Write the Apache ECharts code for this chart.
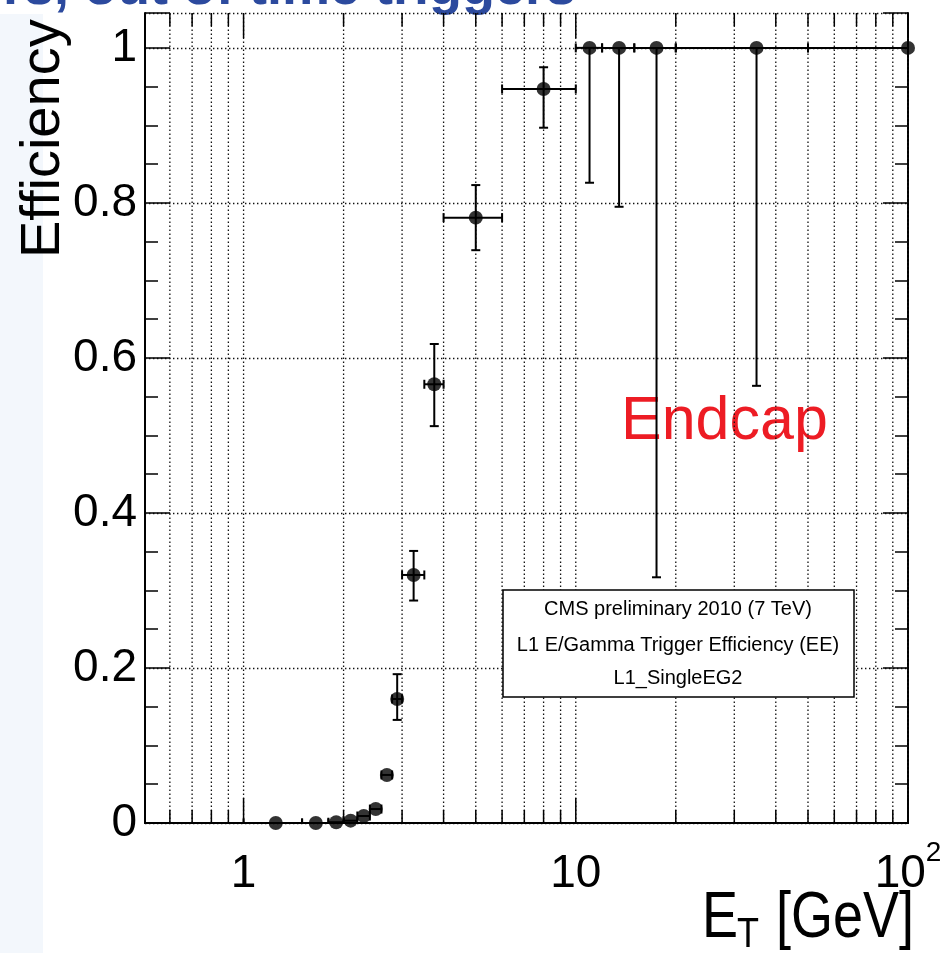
<!DOCTYPE html>
<html>
<head>
<meta charset="utf-8">
<script src="https://cdn.jsdelivr.net/npm/echarts@6/dist/echarts.min.js"></script>
<style>
html, body { margin: 0; padding: 0; background: #fff; }
#chart { width: 948px; height: 953px; }
</style>
</head>
<body>
<div id="chart"></div>
<script>
// L1 EG trigger efficiency, endcap. bin centres and edges in GeV
var etCenter = [1.25, 1.65, 1.9, 2.1, 2.3, 2.5, 2.7, 2.9, 3.25, 3.75, 5, 8, 11, 13.5, 17.5, 35, 100];
var etLow    = [1.0, 1.5, 1.8, 2.0, 2.2, 2.4, 2.6, 2.8, 3.0, 3.5, 4, 6, 10, 12, 15, 20, 50];
var etHigh   = [1.5, 1.8, 2.0, 2.2, 2.4, 2.6, 2.8, 3.0, 3.5, 4.0, 6, 10, 12, 15, 20, 50, 150];
var eff      = [0, 0, 0.001, 0.003, 0.009, 0.018, 0.062, 0.160, 0.320, 0.566, 0.781, 0.947, 1, 1, 1, 1, 1];
var effLow   = [0, 0, 0.001, 0.003, 0.009, 0.018, 0.062, 0.133, 0.287, 0.512, 0.739, 0.897, 0.826, 0.795, 0.317, 0.564, 1];
var effHigh  = [0, 0, 0.001, 0.003, 0.009, 0.018, 0.062, 0.192, 0.351, 0.618, 0.823, 0.975, 1, 1, 1, 1, 1];

var xTickVals = [1, 10, 100];
var xTickText = ['{b|1}', '{b|10}', '{b|10}{s|2}'];
var xMinorVals = [0.6, 0.7, 0.8, 0.9, 2, 3, 4, 5, 6, 7, 8, 9, 20, 30, 40, 50, 60, 70, 80, 90];
var yTickVals = [0, 0.2, 0.4, 0.6, 0.8, 1];
var yTickText = ['0', '0.2', '0.4', '0.6', '0.8', '1'];

var X_MIN = 0.505, X_MAX = 100, Y_MAX = 1.045;
var FONT = '"Liberation Sans", Arial, Helvetica, sans-serif';

(function () {
    var chart = echarts.init(document.getElementById('chart'));

    function xLabel(v) {
        for (var i = 0; i < xTickVals.length; i++) {
            if (Math.abs(v - xTickVals[i]) / xTickVals[i] < 1e-6) return xTickText[i];
        }
        return '';
    }
    function yLabel(v) {
        for (var i = 0; i < yTickVals.length; i++) {
            if (Math.abs(v - yTickVals[i]) < 1e-6) return yTickText[i];
        }
        return '';
    }

    // x grid lines + ticks (minor = 0, major = 1); log axis minor ticks done by hand
    var gridData = xMinorVals.map(function (v) { return [v, 0]; })
        .concat(xTickVals.map(function (v) { return [v, 1]; }));

    var errData = etCenter.map(function (x, i) {
        return [x, eff[i], etLow[i], etHigh[i], effLow[i], effHigh[i]];
    });
    var pts = etCenter.map(function (x, i) { return [x, eff[i]]; });

    function renderGrid(params, api) {
        var v = api.value(0), major = api.value(1);
        var bot = api.coord([v, 0]), top = api.coord([v, Y_MAX]);
        var len = major ? 25 : 13;
        var tk = { stroke: '#000', lineWidth: 1.5 };
        return {
            type: 'group',
            children: [
                { type: 'line', shape: { x1: bot[0], y1: bot[1], x2: top[0], y2: top[1] },
                  style: { stroke: '#111', lineWidth: 1.3, lineDash: [1.4, 2.6] } },
                { type: 'line', shape: { x1: bot[0], y1: bot[1], x2: bot[0], y2: bot[1] - len }, style: tk },
                { type: 'line', shape: { x1: top[0], y1: top[1], x2: top[0], y2: top[1] + len }, style: tk }
            ]
        };
    }

    function renderErr(params, api) {
        var c = api.coord([api.value(0), api.value(1)]);
        var xl = api.coord([api.value(2), api.value(1)]);
        var xh = api.coord([api.value(3), api.value(1)]);
        var yl = api.coord([api.value(0), api.value(4)]);
        var yh = api.coord([api.value(0), api.value(5)]);
        var st = { stroke: '#000', lineWidth: 2 };
        var cap = 4.5;
        var kids = [
            { type: 'line', shape: { x1: xl[0], y1: c[1], x2: xh[0], y2: c[1] }, style: st },
            { type: 'line', shape: { x1: xl[0], y1: c[1] - cap, x2: xl[0], y2: c[1] + cap }, style: st },
            { type: 'line', shape: { x1: xh[0], y1: c[1] - cap, x2: xh[0], y2: c[1] + cap }, style: st }
        ];
        if (yh[1] < c[1] - 1) {
            kids.push({ type: 'line', shape: { x1: c[0], y1: c[1], x2: c[0], y2: yh[1] }, style: st });
            kids.push({ type: 'line', shape: { x1: c[0] - cap, y1: yh[1], x2: c[0] + cap, y2: yh[1] }, style: st });
        }
        if (yl[1] > c[1] + 1) {
            kids.push({ type: 'line', shape: { x1: c[0], y1: c[1], x2: c[0], y2: yl[1] }, style: st });
            kids.push({ type: 'line', shape: { x1: c[0] - cap, y1: yl[1], x2: c[0] + cap, y2: yl[1] }, style: st });
        }
        return { type: 'group', children: kids };
    }

    var frameLine = { lineStyle: { color: '#000', width: 2 } };
    var tickMajor = { show: true, inside: true, length: 25, lineStyle: { color: '#000', width: 1.5 } };
    var tickMinor = { show: true, inside: true, length: 13, lineStyle: { color: '#000', width: 1.5 } };

    var option = {
        backgroundColor: '#fff',
        animation: false,
        grid: { left: 145, right: 40, top: 13, bottom: 130 },
        xAxis: [
            {
                type: 'log', logBase: 10, min: X_MIN, max: X_MAX, position: 'bottom',
                axisLine: frameLine, axisTick: { show: false }, splitLine: { show: false },
                axisLabel: {
                    formatter: xLabel, margin: 16, color: '#000',
                    rich: {
                        b: { fontSize: 46, fontFamily: FONT, color: '#000', lineHeight: 70 },
                        s: { fontSize: 28, fontFamily: FONT, color: '#000', verticalAlign: 'top' }
                    }
                }
            },
            {
                type: 'log', logBase: 10, min: X_MIN, max: X_MAX, position: 'top',
                axisLine: frameLine, axisTick: { show: false }, splitLine: { show: false },
                axisLabel: { show: false }
            }
        ],
        yAxis: [
            {
                type: 'value', min: 0, max: Y_MAX, interval: 0.2, position: 'left',
                axisLine: frameLine, axisTick: tickMajor,
                axisLabel: { formatter: yLabel, fontSize: 46, fontFamily: FONT, color: '#000', margin: 8 },
                splitLine: { show: true, lineStyle: { color: '#111', width: 1.3, type: [1.4, 2.6] } }
            },
            {
                type: 'value', min: 0, max: Y_MAX, interval: 0.05, position: 'left',
                axisLine: { show: false }, axisTick: tickMinor,
                axisLabel: { show: false }, splitLine: { show: false }
            },
            {
                type: 'value', min: 0, max: Y_MAX, interval: 0.2, position: 'right',
                axisLine: frameLine, axisTick: tickMajor,
                axisLabel: { show: false }, splitLine: { show: false }
            },
            {
                type: 'value', min: 0, max: Y_MAX, interval: 0.05, position: 'right',
                axisLine: { show: false }, axisTick: tickMinor,
                axisLabel: { show: false }, splitLine: { show: false }
            }
        ],
        graphic: [
            { type: 'rect', z: 0, shape: { x: 0, y: 14, width: 43, height: 939 }, style: { fill: '#f3f7fc' } },
            { type: 'text', z: 0, x: 576, y: -11,
              style: { text: 'rs, out of time triggers', font: 'bold 54px ' + FONT, fill: '#2c4a9e',
                       align: 'right', verticalAlign: 'middle' } },
            { type: 'text', z: 0, x: 44, y: 258, rotation: Math.PI / 2,
              style: { text: 'Efficiency', font: '56px ' + FONT, fill: '#000',
                       align: 'left', verticalAlign: 'middle' } },
            { type: 'text', z: 0, x: 621, y: 422,
              style: { text: 'Endcap', font: '61px ' + FONT, fill: '#ed1c24',
                       align: 'left', verticalAlign: 'middle' } },
            { type: 'text', z: 0, x: 702, y: 919, scaleY: 1.2,
              style: { text: 'E', font: '54px ' + FONT, fill: '#000', align: 'left', verticalAlign: 'middle' } },
            { type: 'text', z: 0, x: 737, y: 935, scaleY: 1.2,
              style: { text: 'T', font: '36px ' + FONT, fill: '#000', align: 'left', verticalAlign: 'middle' } },
            { type: 'text', z: 0, x: 776, y: 919, scaleY: 1.2,
              style: { text: '[GeV]', font: '54px ' + FONT, fill: '#000', align: 'left', verticalAlign: 'middle' } },
            { type: 'rect', z: 3, shape: { x: 503, y: 590, width: 351, height: 107 },
              style: { fill: '#fff', stroke: '#000', lineWidth: 1.5 } },
            { type: 'text', z: 3, x: 678, y: 609,
              style: { text: 'CMS preliminary 2010 (7 TeV)', font: '20px ' + FONT, fill: '#000',
                       align: 'center', verticalAlign: 'middle' } },
            { type: 'text', z: 3, x: 678, y: 645,
              style: { text: 'L1 E/Gamma Trigger Efficiency (EE)', font: '20px ' + FONT, fill: '#000',
                       align: 'center', verticalAlign: 'middle' } },
            { type: 'text', z: 3, x: 678, y: 678,
              style: { text: 'L1_SingleEG2', font: '20px ' + FONT, fill: '#000',
                       align: 'center', verticalAlign: 'middle' } }
        ],
        series: [
            {
                name: 'grid', type: 'custom', z: 1, xAxisIndex: 0, yAxisIndex: 0,
                renderItem: renderGrid, data: gridData, silent: true
            },
            {
                name: 'errors', type: 'custom', z: 4, xAxisIndex: 0, yAxisIndex: 0, clip: true,
                renderItem: renderErr, data: errData, encode: { x: 0, y: 1 }, silent: true
            },
            {
                name: 'eff', type: 'scatter', z: 5, xAxisIndex: 0, yAxisIndex: 0, clip: false,
                symbol: 'circle', symbolSize: 14, itemStyle: { color: '#000' }, data: pts
            }
        ]
    };

    chart.setOption(option);
})();
</script>
</body>
</html>
